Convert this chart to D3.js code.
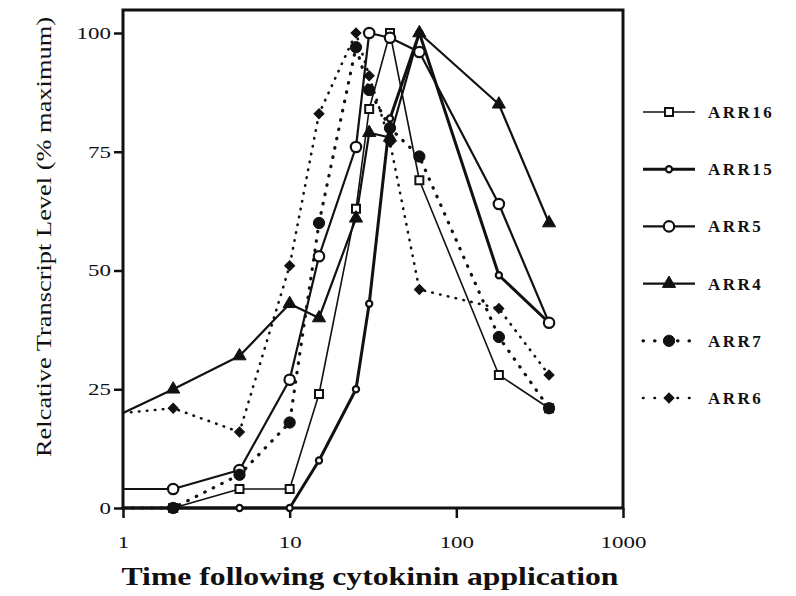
<!DOCTYPE html>
<html>
<head>
<meta charset="utf-8">
<script src="https://cdn.jsdelivr.net/npm/d3@7"></script>
<style>
  body { margin: 0; background: #fff; }
  text { font-family: "Liberation Serif", "DejaVu Serif", serif; fill: #111; }
</style>
</head>
<body>
<div id="chart"></div>
<script>
// time points (x axis, log) and values for each transcript
var times = [1, 2, 5, 10, 15, 25, 30, 40, 60, 180, 360];
var arr16 = [0, 0, 4, 4, 24, 63, 84, 100, 69, 28, 21];
var arr15 = [0, 0, 0, 0, 10, 25, 43, 82, 100, 49, 39];
var arr5 = [4, 4, 8, 27, 53, 76, 100, 99, 96, 64, 39];
var arr4 = [20, 25, 32, 43, 40, 61, 79, 78, 100, 85, 60];
var arr7 = [0, 0, 7, 18, 60, 97, 88, 80, 74, 36, 21];
var arr6 = [20, 21, 16, 51, 83, 100, 91, 77, 46, 42, 28];
var yTicks = [0, 25, 50, 75, 100];
var xTicks = [1, 10, 100, 1000];

var width = 796, height = 596;
var plot = {left: 123, right: 623, top: 10, bottom: 508};

var svg = d3.select("#chart").append("svg")
  .attr("width", width)
  .attr("height", height);

var x = d3.scaleLog().domain([1, 1000]).range([plot.left, plot.right]);
var y = d3.scaleLinear().domain([0, 100]).range([plot.bottom, 33]);

// how each series is drawn (rot: 45 turns the square into a diamond)
var series = [
  {name: "ARR16", values: arr16, width: 1.6, dash: null, symbol: d3.symbolSquare, size: 64, fill: "#fff", stroke: 2, rot: 0},
  {name: "ARR15", values: arr15, width: 3, dash: null, symbol: d3.symbolCircle, size: 30, fill: "#fff", stroke: 2.2, rot: 0},
  {name: "ARR5", values: arr5, width: 2.2, dash: null, symbol: d3.symbolCircle, size: 85, fill: "#fff", stroke: 2.2, rot: 0},
  {name: "ARR4", values: arr4, width: 2.2, dash: null, symbol: d3.symbolTriangle, size: 75, fill: "#111", stroke: 1, rot: 0},
  {name: "ARR7", values: arr7, width: 3.2, dash: "0.5,9", symbol: d3.symbolCircle, size: 100, fill: "#111", stroke: 1, rot: 0},
  {name: "ARR6", values: arr6, width: 2.6, dash: "0.5,7.5", symbol: d3.symbolSquare, size: 50, fill: "#111", stroke: 1, rot: 45}
];

// frame around the plot
svg.append("rect")
  .attr("x", plot.left).attr("y", plot.top)
  .attr("width", plot.right - plot.left).attr("height", plot.bottom - plot.top)
  .attr("fill", "none").attr("stroke", "#111").attr("stroke-width", 3);

var yAxis = svg.append("g")
  .attr("transform", "translate(" + plot.left + ",0)")
  .call(d3.axisLeft(y).tickValues(yTicks).tickSize(9).tickPadding(3));
var xAxis = svg.append("g")
  .attr("transform", "translate(0," + plot.bottom + ")")
  .call(d3.axisBottom(x).tickValues(xTicks).tickFormat(d3.format("d")).tickSize(10).tickPadding(18));

[yAxis, xAxis].forEach(function(a) {
  a.select(".domain").remove();
  a.selectAll(".tick line").attr("stroke", "#111").attr("stroke-width", 2.5);
  a.selectAll(".tick text").attr("font-size", 17).attr("fill", "#111")
    .style("font-family", "Liberation Serif");
});
// the scan has wide digits, stretch them a bit
yAxis.selectAll(".tick text").attr("transform", "scale(1.35,1)").attr("x", -12 / 1.35);
xAxis.selectAll(".tick text").attr("transform", "scale(1.35,1)");

var line = d3.line()
  .x(function(d) { return x(d.t); })
  .y(function(d) { return y(d.v); });

series.forEach(function(s) {
  var pts = times.map(function(t, i) { return {t: t, v: s.values[i]}; });
  svg.append("path")
    .datum(pts)
    .attr("d", line)
    .attr("fill", "none")
    .attr("stroke", "#111")
    .attr("stroke-width", s.width)
    .attr("stroke-linecap", s.dash ? "round" : "butt")
    .attr("stroke-linejoin", "round")
    .attr("stroke-dasharray", s.dash);
  s.pts = pts;
});

// markers drawn after all lines, first point sits on the axis without a marker
series.forEach(function(s) {
  svg.append("g").selectAll("path")
    .data(s.pts.slice(1))
    .enter().append("path")
      .attr("d", d3.symbol().type(s.symbol).size(s.size))
      .attr("transform", function(d) { return "translate(" + x(d.t) + "," + y(d.v) + ") rotate(" + s.rot + ")"; })
      .attr("fill", s.fill)
      .attr("stroke", "#111")
      .attr("stroke-width", s.stroke);
});

// legend
var legend = svg.append("g").selectAll("g")
  .data(series)
  .enter().append("g")
    .attr("transform", function(d, i) { return "translate(0," + (112 + i * 57.2) + ")"; });

legend.append("line")
  .attr("x1", 643).attr("x2", 695)
  .attr("stroke", "#111")
  .attr("stroke-width", function(d) { return d.width; })
  .attr("stroke-linecap", function(d) { return d.dash ? "round" : "butt"; })
  .attr("stroke-dasharray", function(d) { return d.dash ? "0.5,11" : null; });

legend.append("path")
  .attr("d", function(d) { return d3.symbol().type(d.symbol).size(d.size)(); })
  .attr("transform", function(d) { return "translate(669,0) rotate(" + d.rot + ")"; })
  .attr("fill", function(d) { return d.fill; })
  .attr("stroke", "#111")
  .attr("stroke-width", function(d) { return d.stroke; });

legend.append("text")
  .attr("x", 708).attr("y", 6)
  .attr("font-size", 17)
  .attr("font-weight", "bold")
  .attr("letter-spacing", 2.5)
  .text(function(d) { return d.name; });

// axis titles
svg.append("text")
  .attr("transform", "translate(51,237) rotate(-90)")
  .attr("text-anchor", "middle")
  .attr("font-size", 20)
  .attr("textLength", 440)
  .attr("lengthAdjust", "spacingAndGlyphs")
  .text("Relcative Transcript Level (% maximum)");

svg.append("text")
  .attr("x", 370).attr("y", 585)
  .attr("text-anchor", "middle")
  .attr("font-size", 26)
  .attr("font-weight", "bold")
  .attr("textLength", 497)
  .attr("lengthAdjust", "spacingAndGlyphs")
  .text("Time following cytokinin application");
</script>
</body>
</html>
